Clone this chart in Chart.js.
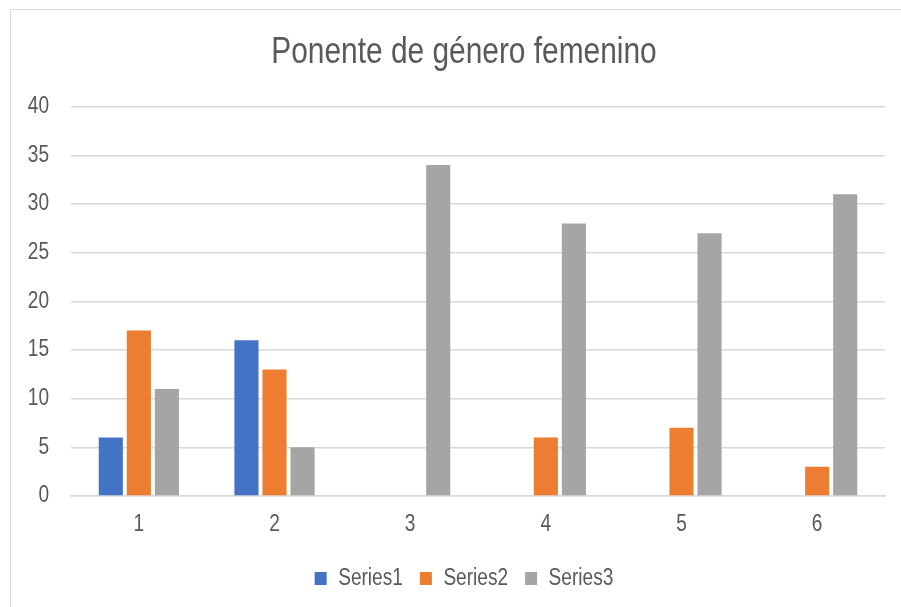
<!DOCTYPE html>
<html>
<head>
<meta charset="utf-8">
<script src="https://cdn.jsdelivr.net/npm/chart.js@4"></script>
<style>
  html, body { margin: 0; padding: 0; background: #fff; }
  #wrap { position: relative; width: 901px; height: 607px; overflow: hidden; }
  #frame { position: absolute; left: 10px; top: 9px; width: 1000px; height: 700px;
           border: 1.5px solid #d9d9d9; box-sizing: border-box; }
  #chart { position: absolute; left: 0; top: 0; }
</style>
</head>
<body>
<div id="wrap">
  <div id="frame"></div>
  <canvas id="chart" width="928" height="607"></canvas>
</div>
<script>
const categories = ['1', '2', '3', '4', '5', '6'];
const series1 = [6, 16, 0, 0, 0, 0];
const series2 = [17, 13, 0, 6, 7, 3];
const series3 = [11, 5, 34, 28, 27, 31];

const textColor = '#595959';
const gridColor = '#d9d9d9';
const fontFamily = '"Liberation Sans", Arial, sans-serif';

const ctx = document.getElementById('chart').getContext('2d');

// no narrow font installed: squeeze text horizontally to look like Arial Narrow
const squeeze = 0.83;
const origFill = ctx.fillText.bind(ctx);
const origMeasure = ctx.measureText.bind(ctx);
ctx.fillText = function(text, x, y, maxWidth){
    ctx.save();
    ctx.translate(x, y);
    ctx.scale(squeeze, 1);
    if(maxWidth === undefined) origFill(text, 0, 0);
    else origFill(text, 0, 0, maxWidth / squeeze);
    ctx.restore();
};
ctx.measureText = function(text){
    const m = origMeasure(text);
    return { width: m.width * squeeze,
             actualBoundingBoxAscent: m.actualBoundingBoxAscent,
             actualBoundingBoxDescent: m.actualBoundingBoxDescent };
};

const chart = new Chart(ctx, {
    type: 'bar',
    data: {
        labels: categories,
        datasets: [
            { label: 'Series1', data: series1, backgroundColor: '#4472C4' },
            { label: 'Series2', data: series2, backgroundColor: '#ED7D31' },
            { label: 'Series3', data: series3, backgroundColor: '#A5A5A5' }
        ]
    },
    options: {
        responsive: false,
        animation: false,
        devicePixelRatio: 1,
        datasets: {
            bar: { categoryPercentage: 0.62, barPercentage: 0.86 }
        },
        layout: { padding: { left: 0, right: 0, top: 0, bottom: 7 } },
        plugins: {
            title: {
                display: true,
                text: 'Ponente de género femenino',
                color: textColor,
                font: { family: fontFamily, size: 36, weight: 'normal' },
                padding: { top: 31, bottom: 32.5 }
            },
            legend: {
                position: 'bottom',
                labels: {
                    color: textColor,
                    font: { family: fontFamily, size: 23 },
                    boxWidth: 12,
                    boxHeight: 13,
                    padding: 17
                }
            },
            tooltip: { enabled: false }
        },
        scales: {
            x: {
                grid: { display: false, drawTicks: false },
                border: { display: true, color: gridColor, width: 1.5 },
                ticks: {
                    color: textColor,
                    font: { family: fontFamily, size: 23 },
                    padding: 14.5
                },
                afterFit: s => { s.height = 54; }
            },
            y: {
                min: 0,
                max: 40,
                ticks: {
                    stepSize: 5,
                    color: textColor,
                    font: { family: fontFamily, size: 23 },
                    padding: 22
                },
                grid: { color: gridColor, lineWidth: 1.5, drawTicks: false },
                border: { display: false },
                afterFit: s => { s.width = 71; }
            },
            // empty right-hand spacer so the title and legend centre like the original
            spacer: {
                position: 'right',
                min: 0,
                max: 40,
                ticks: { display: false },
                grid: { display: false, drawTicks: false },
                border: { display: false },
                afterFit: s => { s.width = 43; }
            }
        }
    }
});
</script>
</body>
</html>
